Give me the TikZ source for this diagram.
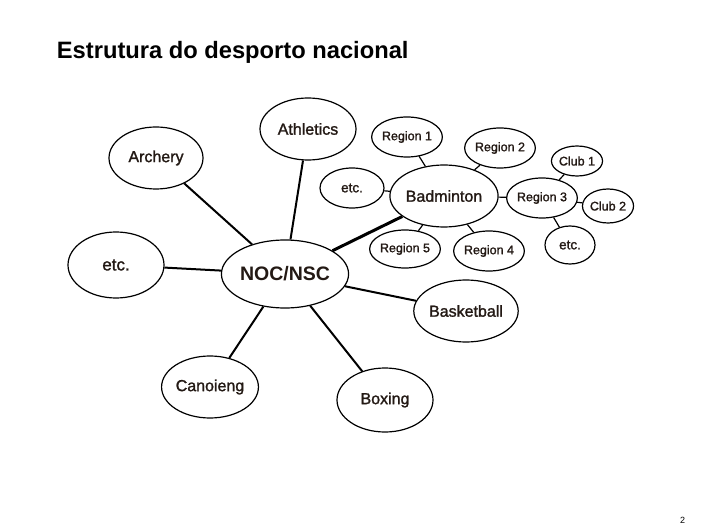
\documentclass[tikz,border=0pt]{standalone}
\usepackage{fontspec}
\setmainfont{Liberation Sans}
\newfontfamily\heavy[FakeBold=1.4]{Liberation Sans}
\usetikzlibrary{shapes.geometric}
\definecolor{ink}{RGB}{35,25,20}
\begin{document}
\begin{tikzpicture}[x=1pt, y=-1pt, line width=1.2pt, text=ink,
  bubble/.style={ellipse, draw, fill=white, inner sep=0pt, font=\heavy\fontsize{16}{18}\selectfont},
  minibubble/.style={ellipse, draw, fill=white, inner sep=0pt, font=\heavy\fontsize{12.5}{14}\selectfont}]
  \useasboundingbox (0,0) rectangle (706,529);
  \node[anchor=base west, font=\bfseries\fontsize{23.7}{26}\selectfont, text=black] (title) at (53,59) {Estrutura do desporto nacional};
  \node[anchor=base east, font=\fontsize{9}{10}\selectfont, text=black] (page) at (689,523) {2};
  % main hub
  \node[bubble, minimum width=112pt, minimum height=68pt, font=\bfseries\fontsize{19.5}{22}\selectfont] (noc) at (285,274) {NOC/NSC};
  \node[bubble, minimum width=96pt, minimum height=62pt] (athl) at (308,129) {Athletics};
  \node[bubble, minimum width=94pt, minimum height=62pt] (arch) at (156,158) {Archery};
  \node[bubble, minimum width=96pt, minimum height=66pt, font=\heavy\fontsize{17}{19}\selectfont] (etcl) at (116,265) {etc.};
  \node[bubble, minimum width=94pt, minimum height=62pt] (bask) at (466,311) {Basketball};
  \node[bubble, minimum width=94pt, minimum height=62pt] (cano) at (210,387) {Canoieng};
  \node[bubble, minimum width=96pt, minimum height=64pt] (boxg) at (385,400) {Boxing};
  \node[bubble, minimum width=94pt, minimum height=62pt] (badm) at (444,196) {Badminton};
  % badminton regions
  \node[minibubble, minimum width=64pt, minimum height=40pt, font=\heavy\fontsize{13.5}{15}\selectfont] (etcb) at (352,188) {etc.};
  \node[minibubble, minimum width=66pt, minimum height=40pt] (reg1) at (407,137) {Region 1};
  \node[minibubble, minimum width=66pt, minimum height=40pt] (reg2) at (500,148) {Region 2};
  \node[minibubble, minimum width=64pt, minimum height=40pt] (reg3) at (542,198) {Region 3};
  \node[minibubble, minimum width=66pt, minimum height=38pt] (reg5) at (405,249) {Region 5};
  \node[minibubble, minimum width=66pt, minimum height=40pt] (reg4) at (489,251) {Region 4};
  % clubs
  \node[minibubble, minimum width=50pt, minimum height=30pt] (club1) at (577,161) {Club 1};
  \node[minibubble, minimum width=50pt, minimum height=34pt] (club2) at (608,206) {Club 2};
  \node[minibubble, minimum width=50pt, minimum height=38pt, font=\heavy\fontsize{13.5}{15}\selectfont] (etcr) at (570,245) {etc.};
  % links
  \draw[line width=2pt] (noc) -- (arch);
  \draw[line width=2pt] (noc) -- (athl);
  \draw[line width=2pt] (noc) -- (etcl);
  \draw[line width=3pt] (noc) -- (badm);
  \draw[line width=2pt] (noc) -- (bask);
  \draw[line width=2pt] (noc) -- (boxg);
  \draw[line width=2pt] (noc) -- (cano);
  \draw (badm) -- (etcb);
  \draw (badm) -- (reg1);
  \draw (badm) -- (reg2);
  \draw (badm) -- (reg3);
  \draw (badm) -- (reg4);
  \draw (badm) -- (reg5);
  \draw (reg3) -- (club1);
  \draw (reg3) -- (club2);
  \draw (reg3) -- (etcr);
\end{tikzpicture}
\end{document}
